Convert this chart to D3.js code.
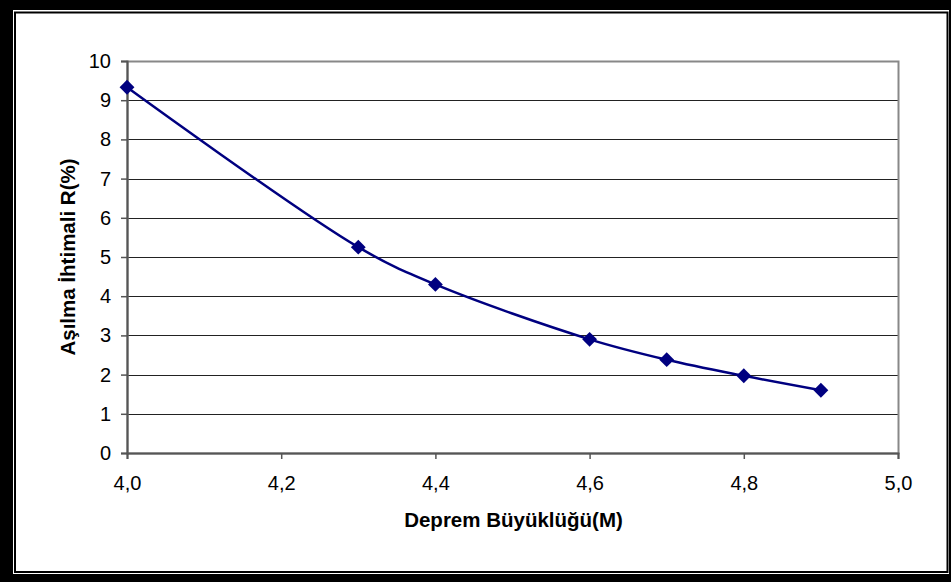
<!DOCTYPE html>
<html>
<head>
<meta charset="utf-8">
<script src="https://cdn.jsdelivr.net/npm/d3@7/dist/d3.min.js"></script>
<style>
  body { margin: 0; background: #fff; }
  svg { display: block; font-family: "Liberation Sans", Arial, sans-serif; }
</style>
</head>
<body>
<div id="chart"></div>
<script>
// veriler
var magnitudes = [4.0, 4.3, 4.4, 4.6, 4.7, 4.8, 4.9];
var probabilities = [9.33, 5.25, 4.3, 2.9, 2.38, 1.97, 1.6];
var xTicks = [4.0, 4.2, 4.4, 4.6, 4.8, 5.0];
var yTicks = [0, 1, 2, 3, 4, 5, 6, 7, 8, 9, 10];
var xTitle = "Deprem Büyüklüğü(M)";
var yTitle = "Aşılma İhtimali R(%)";

var W = 951, H = 582;
var margin = {top: 61, right: 53, bottom: 129, left: 127};
var width = W - margin.left - margin.right;
var height = H - margin.top - margin.bottom;

var svg = d3.select("#chart").append("svg")
  .attr("width", W)
  .attr("height", H);

// çerçeve
svg.append("rect").attr("width", W).attr("height", H).attr("fill", "#000");
svg.append("rect").attr("x", 13).attr("y", 10).attr("width", 936).attr("height", 564).attr("fill", "#fff");
svg.append("rect").attr("x", 15).attr("y", 12.5).attr("width", 932.5).attr("height", 559.5)
  .attr("fill", "none").attr("stroke", "#000").attr("stroke-width", 2);

var g = svg.append("g").attr("transform", "translate(" + margin.left + "," + margin.top + ")");

var x = d3.scaleLinear().domain([4.0, 5.0]).range([0, width]);
var y = d3.scaleLinear().domain([0, 10]).range([height, 0]);

// grid
g.append("g").selectAll("line")
  .data(yTicks.slice(1, -1))
  .join("line")
    .attr("x1", 0).attr("x2", width)
    .attr("y1", function(d) { return Math.round(y(d)) + 0.5; })
    .attr("y2", function(d) { return Math.round(y(d)) + 0.5; })
    .attr("stroke", "#222").attr("stroke-width", 1);

// plot border
g.append("rect")
  .attr("x", 0.5).attr("y", 0.5).attr("width", width).attr("height", height)
  .attr("fill", "none").attr("stroke", "#888").attr("stroke-width", 2);

// eksenler
var xAxis = g.append("g")
  .attr("transform", "translate(0," + height + ")")
  .call(d3.axisBottom(x).tickValues(xTicks).tickSize(6).tickPadding(17)
    .tickFormat(function(d) { return d3.format(".1f")(d).replace(".", ","); }));
var yAxis = g.append("g")
  .call(d3.axisLeft(y).tickValues(yTicks).tickSize(6).tickPadding(10));

[xAxis, yAxis].forEach(function(a) {
  a.attr("font-size", 20).attr("font-family", "'Liberation Sans', Arial, sans-serif");
  a.select(".domain").attr("stroke", "#555").attr("stroke-width", 2);
  a.selectAll(".tick line").attr("stroke", "#555").attr("stroke-width", 1.5);
  a.selectAll("text").attr("fill", "#000");
});

// çizgi
var line = d3.line()
  .x(function(d, i) { return x(magnitudes[i]); })
  .y(function(d) { return y(d); })
  .curve(d3.curveCatmullRom.alpha(0.5));

g.append("path")
  .datum(probabilities)
  .attr("d", line)
  .attr("fill", "none")
  .attr("stroke", "#000080")
  .attr("stroke-width", 2.5);

g.selectAll(".pt")
  .data(probabilities)
  .join("path")
    .attr("class", "pt")
    .attr("d", d3.symbol().type(d3.symbolSquare).size(110))
    .attr("transform", function(d, i) { return "translate(" + x(magnitudes[i]) + "," + y(d) + ") rotate(45)"; })
    .attr("fill", "#000080");

// başlıklar
svg.append("text")
  .attr("x", margin.left + width / 2 + 1)
  .attr("y", 527)
  .attr("text-anchor", "middle")
  .attr("font-size", 20.5).attr("font-weight", "bold")
  .text(xTitle);

svg.append("text")
  .attr("transform", "translate(75," + 257 + ") rotate(-90)")
  .attr("text-anchor", "middle")
  .attr("font-size", 20.5).attr("font-weight", "bold")
  .text(yTitle);
</script>
</body>
</html>
